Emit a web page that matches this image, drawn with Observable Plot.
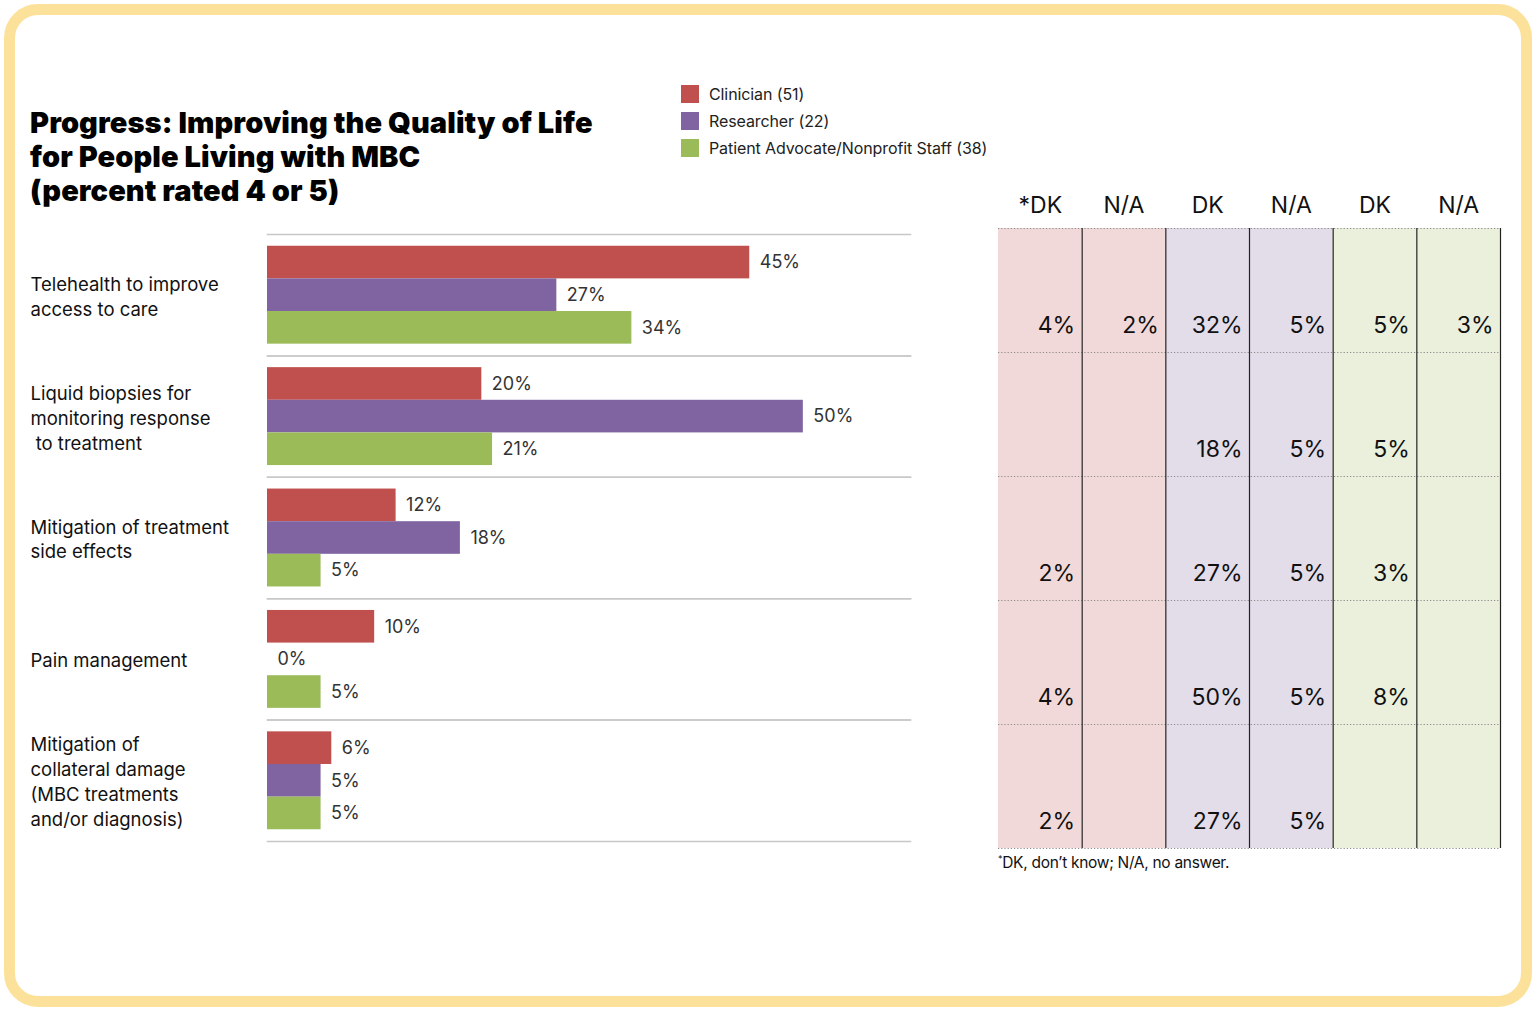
<!DOCTYPE html>
<html><head><meta charset="utf-8">
<script src="https://cdn.jsdelivr.net/npm/d3@7"></script>
<script src="https://cdn.jsdelivr.net/npm/@observablehq/plot@0.6"></script>
<style>
body{margin:0;background:#fff;font-family:Inter,Lato,"Noto Sans",sans-serif;}
#page{position:relative;width:1535px;height:1009px;overflow:hidden;background:#fff;}
#border{position:absolute;left:4px;top:4px;width:1528px;height:1003px;box-sizing:border-box;border:11px solid #FCE19A;border-radius:34px;}
#title{position:absolute;left:30px;top:106px;font-family:Inter,Roboto,sans-serif;font-size:29px;font-weight:900;letter-spacing:0.1px;line-height:34px;color:#000;white-space:nowrap;}
#legend{position:absolute;left:681px;top:80px;font-size:16px;letter-spacing:-0.1px;color:#222;}
.li{display:flex;align-items:center;height:27px;white-space:nowrap;}
.sw{width:18px;height:18px;margin-right:10px;}
#bars{position:absolute;left:0;top:224px;}
#table{position:absolute;left:0;top:170px;}
#note{position:absolute;left:998px;top:853px;font-size:15.5px;letter-spacing:-0.3px;color:#111;white-space:nowrap;}
#note sup{font-size:9px;vertical-align:6px;}
</style></head>
<body>
<div id="page">
  <div id="border"></div>
  <div id="title">Progress: Improving the Quality of Life<br>for People Living with MBC<br>(percent rated 4 or 5)</div>
  <div id="legend"></div>
  <div id="bars"></div>
  <div id="table"></div>
  <div id="note"><sup>*</sup>DK, don’t know; N/A, no answer.</div>
</div>
<script>
const categories = [
  "Telehealth to improve\naccess to care",
  "Liquid biopsies for\nmonitoring response\n to treatment",
  "Mitigation of treatment\nside effects",
  "Pain management",
  "Mitigation of\ncollateral damage\n(MBC treatments\nand/or diagnosis)"
];
const series = ["Clinician (51)", "Researcher (22)", "Patient Advocate/Nonprofit Staff (38)"];
const clinician = [45, 20, 12, 10, 6];
const researcher = [27, 50, 18, 0, 5];
const advocate = [34, 21, 5, 5, 5];
const colors = ["#C0504D", "#8064A2", "#9BBB59"];

const tableHeaders = ["*DK", "N/A", "DK", "N/A", "DK", "N/A"];
const clinicianDK = [4, null, 2, 4, 2];
const clinicianNA = [2, null, null, null, null];
const researcherDK = [32, 18, 27, 50, 27];
const researcherNA = [5, 5, 5, 5, 5];
const advocateDK = [5, 5, 3, 8, null];
const advocateNA = [3, null, null, null, null];
const cellFills = ["#F2D9D9", "#E3DDEA", "#EBF0DD"];

const FONT = "Inter, Lato, 'Noto Sans', sans-serif";

// legend
const legend = document.getElementById("legend");
series.forEach((s, i) => {
  const row = document.createElement("div");
  row.className = "li";
  row.innerHTML = `<div class="sw" style="background:${colors[i]}"></div><span>${s}</span>`;
  legend.appendChild(row);
});

// bar chart
const seriesValues = [clinician, researcher, advocate];
const barData = categories.flatMap((c, i) => series.map((s, j) => ({cat: c, s, v: seriesValues[j][i]})));

const bars = Plot.plot({
  width: 920, height: 627,
  marginTop: 10, marginBottom: 10, marginLeft: 267, marginRight: 10,
  x: {domain: [0, 60], axis: null},
  y: {domain: series, axis: null, paddingInner: 0, paddingOuter: 0.36, round: false},
  fy: {domain: categories, axis: null, padding: 0, round: false},
  color: {domain: series, range: colors},
  style: {fontFamily: FONT, fontSize: "18px", background: "transparent"},
  marks: [
    Plot.frame({anchor: "top", stroke: "#c8c8c8", strokeWidth: 1.5}),
    Plot.frame({anchor: "bottom", stroke: "#c8c8c8", strokeWidth: 1.5}),
    Plot.barX(barData, {x: "v", y: "s", fy: "cat", fill: "s"}),
    Plot.text(barData, {x: "v", y: "s", fy: "cat", text: d => d.v + "%", textAnchor: "start", dx: 10, fill: "#333", fontSize: 18, letterSpacing: "-0.3px"}),
    Plot.text(categories, {fy: d => d, text: d => d, frameAnchor: "left", textAnchor: "start", dx: -237, lineHeight: 1.35, fill: "#111", fontSize: 18.5, letterSpacing: "-0.3px"})
  ]
});
document.getElementById("bars").appendChild(bars);

// table
const tableCols = [clinicianDK, clinicianNA, researcherDK, researcherNA, advocateDK, advocateNA];
const nRows = categories.length;
const cells = tableCols.flatMap((col, c) => col.map((v, r) => ({c, r, v, g: Math.floor(c / 2)})));

const table = Plot.plot({
  width: 1535, height: 688,
  marginTop: 58, marginBottom: 10, marginLeft: 998, marginRight: 35,
  x: {domain: [0, tableCols.length], axis: null},
  y: {domain: [0, nRows], axis: null, reverse: true},
  style: {fontFamily: FONT, background: "transparent"},
  marks: [
    Plot.rect(cells, {x1: "c", x2: d => d.c + 1, y1: "r", y2: d => d.r + 1, fill: d => cellFills[d.g]}),
    Plot.ruleY(d3.range(nRows + 1), {stroke: "#8a8a8a", strokeWidth: 1, strokeDasharray: "1.2,2"}),
    Plot.ruleX(d3.range(1, tableCols.length + 1), {stroke: "#222", strokeWidth: 1.2}),
    Plot.text(cells.filter(d => d.v != null), {x: d => d.c + 1, y: d => d.r + 1, text: d => d.v + "%", textAnchor: "end", dx: -7, dy: -27, fontSize: 23, letterSpacing: "-0.5px", fill: "#111"}),
    Plot.text(tableHeaders, {x: (d, i) => i + 0.5, frameAnchor: "top", text: d => d, dy: -32, fontSize: 23, letterSpacing: "-0.5px", fill: "#111"})
  ]
});
document.getElementById("table").appendChild(table);
</script>
</body></html>
